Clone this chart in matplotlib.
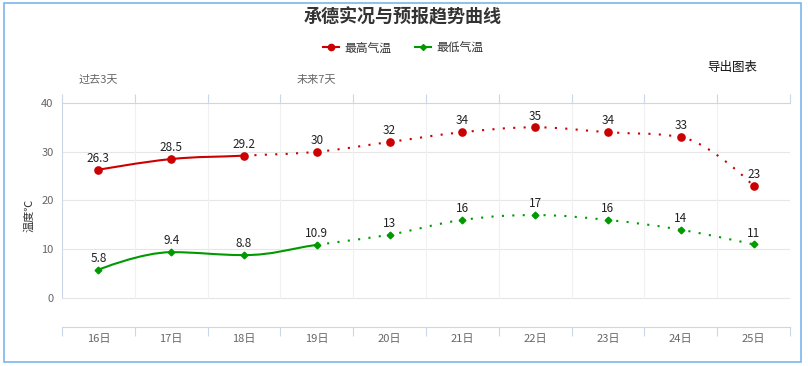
import matplotlib
matplotlib.use("Agg")
import matplotlib.pyplot as plt
from matplotlib.path import Path
from matplotlib.patches import PathPatch, Rectangle
from matplotlib.lines import Line2D
import matplotlib.transforms as mtransforms

plt.rcParams['font.family'] = ['Noto Sans CJK SC', 'DejaVu Sans']

days = ['16日', '17日', '18日', '19日', '20日', '21日', '22日', '23日', '24日', '25日']
t_max = [26.3, 28.5, 29.2, 30, 32, 34, 35, 34, 33, 23]
t_min = [5.8, 9.4, 8.8, 10.9, 13, 16, 17, 16, 14, 11]
max_obs_end = 2   # last observed point of the max series (solid line)
min_obs_end = 3   # last observed point of the min series
yticks = [0, 10, 20, 30, 40]

RED = '#cc0000'
GREEN = '#009900'
AXIS = '#ccd6eb'
GRID = '#e6e6e6'


def spline_controls(xs, ys, smoothing=1.5):
    """Highcharts-style spline control points for each point."""
    n = len(xs)
    left = [(xs[i], ys[i]) for i in range(n)]
    right = [(xs[i], ys[i]) for i in range(n)]
    denom = smoothing + 1
    for i in range(1, n - 1):
        lx, ly = xs[i - 1], ys[i - 1]
        nx, ny = xs[i + 1], ys[i + 1]
        px, py = xs[i], ys[i]
        lcx = (smoothing * px + lx) / denom
        lcy = (smoothing * py + ly) / denom
        rcx = (smoothing * px + nx) / denom
        rcy = (smoothing * py + ny) / denom
        corr = (rcy - lcy) * (rcx - px) / (rcx - lcx) + py - rcy
        lcy += corr
        rcy += corr
        if lcy > ly and lcy > py:
            lcy = max(ly, py); rcy = 2 * py - lcy
        elif lcy < ly and lcy < py:
            lcy = min(ly, py); rcy = 2 * py - lcy
        if rcy > ny and rcy > py:
            rcy = max(ny, py); lcy = 2 * py - rcy
        elif rcy < ny and rcy < py:
            rcy = min(ny, py); lcy = 2 * py - rcy
        left[i] = (lcx, lcy)
        right[i] = (rcx, rcy)
    return left, right


def spline_path(xs, ys, start, end):
    left, right = spline_controls(xs, ys)
    verts = [(xs[start], ys[start])]
    codes = [Path.MOVETO]
    for k in range(start, end):
        verts += [right[k], left[k + 1], (xs[k + 1], ys[k + 1])]
        codes += [Path.CURVE4] * 3
    return Path(verts, codes)


fig = plt.figure(figsize=(8.08, 3.66), dpi=100)
W, H = 808, 366

ax = fig.add_axes([62 / W, 1 - 327 / H, 728 / W, 224 / H])
x = list(range(len(days)))
ax.set_xlim(-0.5, len(days) - 0.5)
ax.set_ylim(-5.95, 40)

# grid
for yv in yticks[:-1]:
    ax.axhline(yv, color=GRID, lw=0.8, zorder=0)
bounds = [i - 0.5 for i in range(len(days) + 1)]
for b in bounds[1:-1]:
    ax.vlines(b, 0, 40, color='#f0f0f0', lw=0.8, zorder=0)
ax.vlines(bounds[0], 0, 40, color=AXIS, lw=0.8, zorder=0)

for s in ['left', 'right']:
    ax.spines[s].set_visible(False)
for s in ['top', 'bottom']:
    ax.spines[s].set_color(AXIS)
    ax.spines[s].set_linewidth(0.8)

ax.set_xticks(bounds)
ax.set_xticklabels([])
ax.tick_params(axis='x', which='major', direction='out', length=6.5, width=0.8,
               color=AXIS, top=True, bottom=True)
ax.set_xticks(x, minor=True)
ax.set_xticklabels(days, minor=True)
ax.tick_params(axis='x', which='minor', length=0, labelsize=8, labelcolor='#666666', pad=5)

ax.set_yticks(yticks)
ax.tick_params(axis='y', length=0, labelsize=8, labelcolor='#666666', pad=6)
ax.set_ylabel('温度℃', fontsize=8, color='#333333', labelpad=5)

# series
for ys, col, obs_end, ms, mk in [(t_max, RED, max_obs_end, 5.2, 'o'),
                                 (t_min, GREEN, min_obs_end, 3.4, 'D')]:
    ax.add_patch(PathPatch(spline_path(x, ys, 0, obs_end), fill=False,
                           edgecolor=col, lw=1.5, zorder=3))
    ax.add_patch(PathPatch(spline_path(x, ys, obs_end, len(x) - 1), fill=False,
                           edgecolor=col, lw=1.5, linestyle=(0, (1, 4)), zorder=3))
    ax.plot(x, ys, linestyle='none', marker=mk, markersize=ms, color=col, zorder=4)
    for xi, yi in zip(x, ys):
        ax.annotate(f'{yi:g}', (xi, yi), xytext=(0, 3.5), textcoords='offset points',
                    ha='center', va='bottom', fontsize=8.5, color='#222222', zorder=5)

# band labels
trans = mtransforms.blended_transform_factory(ax.transData, fig.transFigure)
ax.text(0, 1 - 80 / H, '过去3天', transform=trans, ha='center', va='center',
        fontsize=8, color='#666666')
ax.text(3, 1 - 80 / H, '未来7天', transform=trans, ha='center', va='center',
        fontsize=8, color='#666666')

# title, legend, export text
fig.text(403 / W, 1 - 17 / H, '承德实况与预报趋势曲线', ha='center', va='center',
         fontsize=13, fontweight='bold', color='#333333')
handles = [Line2D([], [], color=RED, lw=1.5, marker='o', markersize=4.5),
           Line2D([], [], color=GREEN, lw=1.5, marker='D', markersize=3)]
fig.legend(handles, ['最高气温', '最低气温'], loc='center', bbox_to_anchor=(403 / W, 1 - 48 / H),
           ncol=2, frameon=False, fontsize=8.5, handlelength=1.4, handletextpad=0.4,
           columnspacing=2.0, labelcolor='#333333')
fig.text(732 / W, 1 - 67 / H, '导出图表', ha='center', va='center', fontsize=9, color='#111111')

# outer border
fig.patches.append(Rectangle((4 / W, 1 - 362 / H), 797 / W, 359 / H, transform=fig.transFigure,
                             fill=False, edgecolor='#7cb5ec', lw=1.2))

fig.savefig('out.png', dpi=100)
